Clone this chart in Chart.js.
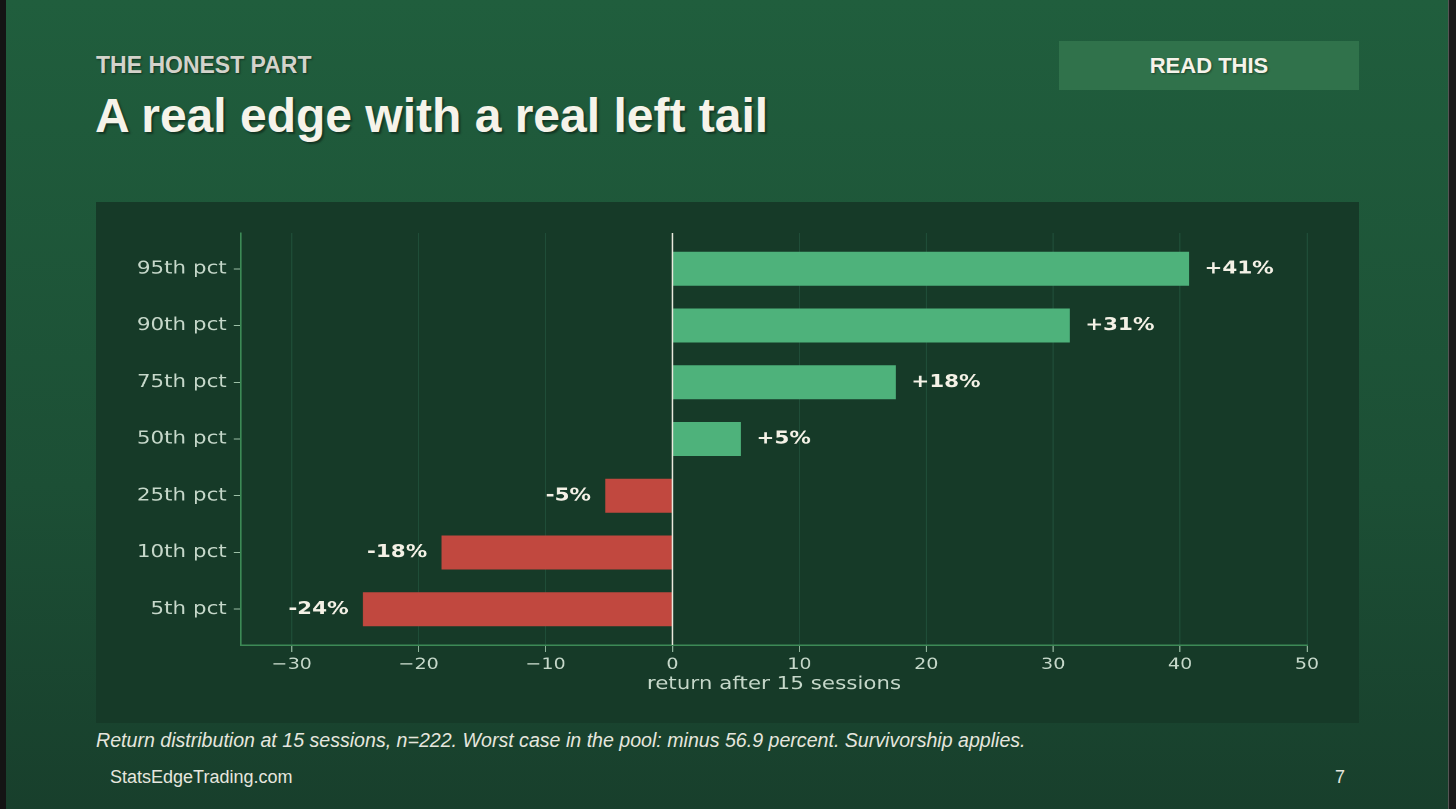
<!DOCTYPE html>
<html>
<head>
<meta charset="utf-8">
<script src="https://cdn.jsdelivr.net/npm/chart.js@4/dist/chart.umd.min.js"></script>
<style>
  html, body { margin: 0; padding: 0; }
  body {
    width: 1456px; height: 809px; position: relative; overflow: hidden;
    background: linear-gradient(to bottom, #205e3d 0%, #1c4f35 60%, #183f2c 100%);
    font-family: "Liberation Sans", Arial, sans-serif;
  }
  .edge-l { position: absolute; left: 0; top: 0; width: 6px; height: 809px; background: #141414; }
  .edge-r { position: absolute; left: 1448px; top: 0; width: 8px; height: 809px; background: #1a1a1a; border-left: 1px solid #555; }
  .kicker {
    position: absolute; left: 96px; top: 54px; font-size: 23px; line-height: 23px;
    font-weight: bold; color: #d3d3cb; text-shadow: 1px 1px 2px rgba(0,0,0,0.45);
  }
  .title {
    position: absolute; left: 95px; top: 92px; font-size: 48px; line-height: 48px;
    font-weight: bold; color: #f6f3ea; text-shadow: 2px 2px 2px rgba(0,0,0,0.4);
  }
  .badge {
    position: absolute; left: 1059px; top: 41px; width: 300px; height: 49px;
    background: #30724b; color: #f6f3ea; font-weight: bold; font-size: 22px;
    line-height: 49px; text-align: center; text-shadow: 1px 1px 2px rgba(0,0,0,0.4);
  }
  .panel { position: absolute; left: 96px; top: 202px; width: 1263px; height: 521px; background: #163a28; }
  /* the figure in the slide is stretched sideways, so the chart is too */
  .plot {
    position: absolute; left: 0; top: 0; width: 1061px; height: 521px;
    transform: scaleX(1.1904); transform-origin: 0 0;
  }
  .caption {
    position: absolute; left: 96px; top: 731px; font-size: 19.6px; line-height: 19.6px;
    font-style: italic; color: #e6e6de;
  }
  .footer { position: absolute; top: 768px; font-size: 18px; line-height: 18px; color: #e6e6de; }
</style>
</head>
<body>
<div class="edge-l"></div>
<div class="edge-r"></div>
<div class="kicker">THE HONEST PART</div>
<div class="title">A real edge with a real left tail</div>
<div class="badge">READ THIS</div>
<div class="panel"><div class="plot"><canvas id="chart"></canvas></div></div>
<div class="caption">Return distribution at 15 sessions, n=222. Worst case in the pool: minus 56.9 percent. Survivorship applies.</div>
<div class="footer" style="left:110px">StatsEdgeTrading.com</div>
<div class="footer" style="left:1335px">7</div>

<script>
// bottom to top, as drawn on the y axis
const percentiles = ['5th pct', '10th pct', '25th pct', '50th pct', '75th pct', '90th pct', '95th pct'];
const returns = [-24.4, -18.2, -5.3, 5.4, 17.6, 31.3, 40.7];
const xTicks = [-30, -20, -10, 0, 10, 20, 30, 40, 50];

const upColor = '#4eb27b';
const downColor = '#c1483f';
const labelFont = 'DejaVu Sans';
const axisText = '#c6d8ca';

const points = returns.map((v, i) => ({ x: v, y: i }));

// white zero line and the +x% labels
const overlay = {
  id: 'overlay',
  afterDatasetsDraw(chart) {
    const ctx = chart.ctx;
    const area = chart.chartArea;
    const x0 = chart.scales.x.getPixelForValue(0);
    ctx.save();
    ctx.strokeStyle = '#ecebdf';
    ctx.lineWidth = 1.3;
    ctx.beginPath();
    ctx.moveTo(x0, area.top);
    ctx.lineTo(x0, area.bottom);
    ctx.stroke();

    ctx.font = 'bold 18px "' + labelFont + '"';
    ctx.fillStyle = '#f4f1e6';
    ctx.textBaseline = 'middle';
    chart.getDatasetMeta(0).data.forEach((bar, i) => {
      const v = returns[i];
      const r = Math.round(v);
      if (v >= 0) {
        ctx.textAlign = 'left';
        ctx.fillText('+' + r + '%', bar.x + 13, bar.y);
      } else {
        ctx.textAlign = 'right';
        ctx.fillText(r + '%', bar.x - 12, bar.y);
      }
    });
    ctx.restore();
  }
};

new Chart(document.getElementById('chart'), {
  type: 'bar',
  data: {
    datasets: [{
      data: points,
      backgroundColor: ctx => (ctx.raw && ctx.raw.x < 0) ? downColor : upColor,
      borderWidth: 0,
      barPercentage: 0.6,
      categoryPercentage: 1
    }]
  },
  options: {
    indexAxis: 'y',
    responsive: true,
    maintainAspectRatio: false,
    devicePixelRatio: 2,
    animation: false,
    layout: { padding: { top: 31, right: 43.7, left: 0, bottom: 0 } },
    plugins: { legend: { display: false }, tooltip: { enabled: false } },
    scales: {
      x: {
        type: 'linear',
        min: -34,
        max: 50,
        afterBuildTicks: s => { s.ticks = xTicks.map(v => ({ value: v })); },
        afterFit: s => { s.height = 78; },
        grid: { color: '#21503a', lineWidth: 0.9, tickLength: 7, tickColor: '#9cbfa6' },
        border: { color: '#3d8a56', width: 1.5 },
        ticks: {
          color: axisText,
          padding: 3,
          font: { family: labelFont, size: 16 },
          callback: v => v < 0 ? '\u2212' + Math.abs(v) : String(v)
        },
        title: {
          display: true,
          text: 'return after 15 sessions',
          color: axisText,
          font: { family: labelFont, size: 18 },
          padding: { top: 0, bottom: 28 }
        }
      },
      y: {
        type: 'linear',
        min: -0.63,
        max: 6.63,
        offset: false,
        afterBuildTicks: s => { s.ticks = percentiles.map((_, i) => ({ value: i })); },
        afterFit: s => { s.width = 121.8; },
        grid: { offset: false, drawOnChartArea: false, tickLength: 6, tickColor: '#9cbfa6' },
        border: { color: '#3d8a56', width: 1.3 },
        ticks: {
          color: axisText,
          padding: 6,
          font: { family: labelFont, size: 18 },
          callback: v => percentiles[v] || ''
        }
      }
    }
  },
  plugins: [overlay]
});
</script>
</body>
</html>
